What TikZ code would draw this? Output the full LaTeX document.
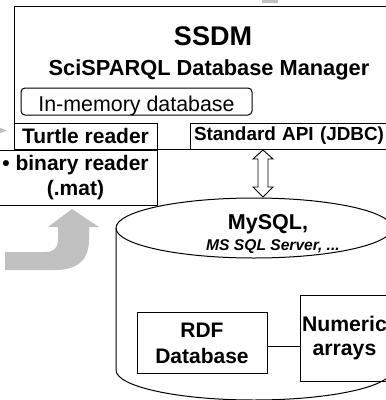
\documentclass[tikz,border=0pt]{standalone}
\usepackage{fontspec}
\setmainfont{Liberation Sans}
\definecolor{arrowgrey}{RGB}{192,192,192}
\begin{document}
\begin{tikzpicture}[
    x=1pt, y=-1pt,
    line width=1pt,
    color=black,
    % Style for the boxes
    box/.style={draw, rectangle, inner sep=0pt, font=\bfseries\fontsize{21}{25}\selectfont},
    grey shape/.style={fill=arrowgrey, draw=none}
]
    \useasboundingbox (0,0) rectangle (386,400);

    % ==========================
    % Bits of the slide above
    % ==========================
    \fill[arrowgrey] (262,-2) rectangle (278,3);
    \fill[arrowgrey] (-2,127) -- (7,130.5) -- (-2,134) -- cycle;

    % ==========================
    % SSDM frame
    % ==========================
    \node[draw, minimum width=386, minimum height=143] (ssdm) at (207,77.5) {};
    \node[anchor=base, font=\bfseries\fontsize{27}{30}\selectfont] (title) at (213,45) {SSDM};
    \node[anchor=base, font=\bfseries\fontsize{21.8}{25}\selectfont] (subtitle) at (209,75) {SciSPARQL Database Manager};
    \node[draw, rounded corners=4pt, minimum width=231, minimum height=27,
          text height=20pt, text depth=0pt, inner sep=0pt,
          font=\fontsize{21.4}{25}\selectfont] (inmem) at (136.5,101.5) {In-memory database};

    % readers and API
    \node[box, minimum width=143, minimum height=26, text height=15pt, text depth=0pt] (turtle) at (85.5,136) {Turtle reader};
    \node[box, minimum height=26, text width=201pt, inner xsep=4pt, align=left,
          font=\bfseries\fontsize{18.9}{23}\selectfont] (api) at (294.5,136) {Standard API (JDBC)};
    \node[box, minimum width=163, minimum height=55, align=center] (binary) at (75.5,178) {• binary reader\\(.mat)};

    % ==========================
    % Grey curved arrow
    % ==========================
    \path[grey shape]
        (5,252) -- (45,252)
        .. controls (55,252) and (58,247) .. (58,238)
        -- (58,227) -- (48,227) -- (72,209) -- (99,227) -- (89,227) -- (89,240)
        .. controls (89,262) and (75,270) .. (55,270)
        -- (5,270) -- cycle;

    % ==========================
    % Database cylinder
    % ==========================
    \draw (254,228) ellipse [x radius=138, y radius=30];
    \draw (116,228) -- (116,370) arc[start angle=180, end angle=0, x radius=138, y radius=30] -- (392,228);
    \node[anchor=base, font=\bfseries\fontsize{21.5}{25}\selectfont] (mysql) at (268,229) {MySQL,};
    \node[anchor=base, font=\bfseries\itshape\fontsize{15.6}{18}\selectfont] (mssql) at (273,250) {MS SQL Server, ...};

    \node[box, minimum width=130, minimum height=61, align=center, font=\bfseries\fontsize{21}{26}\selectfont] (rdf) at (202,343) {RDF\\Database};
    \node[box, minimum width=89, minimum height=86, align=center, font=\bfseries\fontsize{21.2}{24}\selectfont] (numeric) at (344.5,338) {Numeric\\arrays};
    \draw ([yshift=-3.5pt]rdf.east) -- ([yshift=-3.5pt]rdf.east -| numeric.west);

    % ==========================
    % JDBC double arrow
    % ==========================
    \coordinate (jtop) at (263,150);
    \coordinate (jbot) at (263,197);
    \draw[fill=white, line width=0.9pt]
        (jtop) -- ++(10,9) -- ++(-5,0) -- ++(0,28) -- ++(5,0) -- (jbot)
        -- ++(-10,-10) -- ++(5,0) -- ++(0,-28) -- ++(-5,0) -- cycle;

\end{tikzpicture}
\end{document}
